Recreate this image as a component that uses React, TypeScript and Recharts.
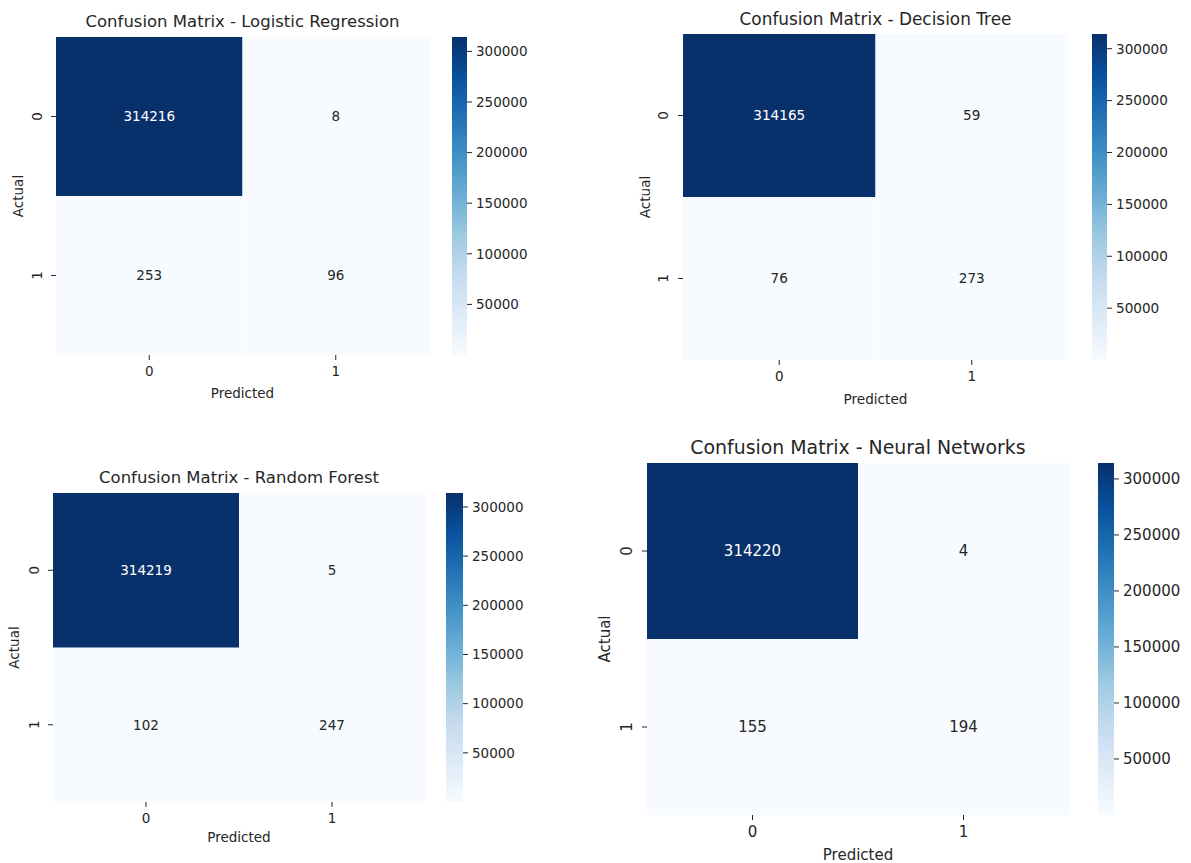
import React from "react";
import { Bar, BarChart, Cell, Label, LabelList, XAxis, YAxis } from "recharts";

type Box = { x: number; y: number; w: number; h: number };

type PanelSpec = {
  id: string;
  title: string;
  matrix: number[][];
  heat: Box;
  cbX: number;
  cbW: number;
  titleY: number;
  titleSize: number;
  predictedY: number;
  actualX: number;
  font: number;
  yTickGap: number;
};

const predictedLabels = ["0", "1"];
const actualLabels = ["0", "1"];
const colorbarTicks = [50000, 100000, 150000, 200000, 250000, 300000];

const logisticRegression = [
  [314216, 8],
  [253, 96],
];
const decisionTree = [
  [314165, 59],
  [76, 273],
];
const randomForest = [
  [314219, 5],
  [102, 247],
];
const neuralNetworks = [
  [314220, 4],
  [155, 194],
];

const FONT = "'DejaVu Sans', Verdana, sans-serif";
const TEXT = "#262626";
const BLUES = ["#f7fbff", "#deebf7", "#c6dbef", "#9ecae1", "#6baed6", "#4292c6", "#2171b5", "#08519c", "#08306b"];

const hex = (c: string) => [1, 3, 5].map((i) => parseInt(c.slice(i, i + 2), 16));

function blues(t: number) {
  const s = Math.max(0, Math.min(1, t)) * (BLUES.length - 1);
  const i = Math.min(Math.floor(s), BLUES.length - 2);
  const f = s - i;
  const a = hex(BLUES[i]);
  const b = hex(BLUES[i + 1]);
  const c = a.map((v, k) => Math.round(v + (b[k] - v) * f));
  return `rgb(${c[0]},${c[1]},${c[2]})`;
}

const RotatedTick = (props: any) => {
  const { x, y, payload, fontSize } = props;
  return (
    <text
      x={x}
      y={y}
      transform={`rotate(-90 ${x} ${y})`}
      textAnchor="middle"
      fontSize={fontSize}
      fill={TEXT}
      fontFamily={FONT}
    >
      {payload.value}
    </text>
  );
};

const makeCellLabel = (vmin: number, vmax: number, font: number) => (props: any) => {
  const { x, y, width, height, value } = props;
  const t = (value - vmin) / (vmax - vmin);
  return (
    <text
      x={Number(x) + Number(width) / 2}
      y={Number(y) + Number(height) / 2}
      dy="0.36em"
      textAnchor="middle"
      fontSize={font}
      fontFamily={FONT}
      fill={t > 0.5 ? "#ffffff" : TEXT}
    >
      {value}
    </text>
  );
};

const AX = 60; // y axis area width
const XH = 60; // x axis area height

function Panel({ spec }: { spec: PanelSpec }) {
  const { id, title, matrix, heat, cbX, cbW, titleY, titleSize, predictedY, actualX, font, yTickGap } = spec;
  const flat = matrix.flat();
  const vmin = Math.min(...flat);
  const vmax = Math.max(...flat);
  const rows = actualLabels.map((a, i) => ({
    actual: a,
    p0: 1,
    p1: 1,
    v0: matrix[i][0],
    v1: matrix[i][1],
  }));
  const cbData = [{ name: "scale", range: [vmin, vmax] }];
  const cellLabel = makeCellLabel(vmin, vmax, font);

  return (
    <>
      <div
        style={{
          position: "absolute",
          left: heat.x - 150,
          width: heat.w + 300,
          top: titleY - titleSize * 0.58,
          textAlign: "center",
          fontSize: titleSize,
          lineHeight: 1.2,
          color: TEXT,
          fontFamily: FONT,
          whiteSpace: "nowrap",
        }}
      >
        {title}
      </div>

      <div style={{ position: "absolute", left: heat.x - AX, top: heat.y }}>
        <BarChart
          layout="vertical"
          width={heat.w + AX + 1}
          height={heat.h + XH}
          data={rows}
          margin={{ top: 0, right: 1, bottom: 0, left: 0 }}
          barCategoryGap={0}
        >
          <XAxis
            type="number"
            domain={[0, 2]}
            ticks={[0.5, 1.5]}
            interval={0}
            allowDataOverflow
            tickFormatter={(v: number) => predictedLabels[Math.floor(v)]}
            axisLine={false}
            tickSize={5}
            tickMargin={6}
            height={XH}
            tickLine={{ stroke: TEXT }}
            tick={{ fill: TEXT, fontSize: font, fontFamily: FONT }}
          >
            <Label
              value="Predicted"
              position="insideBottom"
              offset={heat.y + heat.h + XH - (predictedY + font * 0.36)}
              fill={TEXT}
              fontSize={font}
              fontFamily={FONT}
            />
          </XAxis>
          <YAxis
            type="category"
            dataKey="actual"
            width={AX}
            axisLine={false}
            tickSize={5}
            tickMargin={yTickGap}
            tickLine={{ stroke: TEXT }}
            tick={<RotatedTick fontSize={font} />}
          >
            <Label
              value="Actual"
              position="insideLeft"
              angle={-90}
              offset={actualX - (heat.x - AX)}
              fill={TEXT}
              fontSize={font}
              fontFamily={FONT}
              style={{ textAnchor: "middle" }}
            />
          </YAxis>
          <Bar dataKey="p0" stackId="cm" isAnimationActive={false}>
            {rows.map((r, i) => (
              <Cell key={`c0-${i}`} fill={blues((r.v0 - vmin) / (vmax - vmin))} />
            ))}
            <LabelList dataKey="v0" content={cellLabel} />
          </Bar>
          <Bar dataKey="p1" stackId="cm" isAnimationActive={false}>
            {rows.map((r, i) => (
              <Cell key={`c1-${i}`} fill={blues((r.v1 - vmin) / (vmax - vmin))} />
            ))}
            <LabelList dataKey="v1" content={cellLabel} />
          </Bar>
        </BarChart>
      </div>

      <div style={{ position: "absolute", left: cbX, top: heat.y }}>
        <BarChart
          width={cbW + 90}
          height={heat.h}
          data={cbData}
          margin={{ top: 0, right: 0, bottom: 0, left: 0 }}
          barCategoryGap={0}
        >
          <defs>
            <linearGradient id={`grad-${id}`} x1="0" y1="1" x2="0" y2="0">
              {BLUES.map((c, i) => (
                <stop key={c} offset={i / (BLUES.length - 1)} stopColor={c} />
              ))}
            </linearGradient>
          </defs>
          <XAxis dataKey="name" hide />
          <YAxis
            orientation="right"
            type="number"
            domain={[vmin, vmax]}
            allowDataOverflow
            ticks={colorbarTicks}
            interval={0}
            width={90}
            axisLine={false}
            tickSize={5}
            tickMargin={4}
            tickLine={{ stroke: TEXT }}
            tick={{ fill: TEXT, fontSize: font, fontFamily: FONT }}
          />
          <Bar dataKey="range" fill={`url(#grad-${id})`} isAnimationActive={false} />
        </BarChart>
      </div>
    </>
  );
}

const panels: PanelSpec[] = [
  {
    id: "lr",
    title: "Confusion Matrix - Logistic Regression",
    matrix: logisticRegression,
    heat: { x: 56, y: 37, w: 373, h: 318 },
    cbX: 452,
    cbW: 15,
    titleY: 22,
    titleSize: 16.5,
    predictedY: 393,
    actualX: 18,
    font: 13.5,
    yTickGap: 9,
  },
  {
    id: "dt",
    title: "Confusion Matrix - Decision Tree",
    matrix: decisionTree,
    heat: { x: 683, y: 34, w: 385, h: 326 },
    cbX: 1092,
    cbW: 15,
    titleY: 19,
    titleSize: 16.9,
    predictedY: 399,
    actualX: 645,
    font: 13.6,
    yTickGap: 10,
  },
  {
    id: "rf",
    title: "Confusion Matrix - Random Forest",
    matrix: randomForest,
    heat: { x: 53, y: 493, w: 372, h: 309 },
    cbX: 446,
    cbW: 17,
    titleY: 478,
    titleSize: 16.5,
    predictedY: 837,
    actualX: 14,
    font: 13.5,
    yTickGap: 9,
  },
  {
    id: "nn",
    title: "Confusion Matrix - Neural Networks",
    matrix: neuralNetworks,
    heat: { x: 647, y: 463, w: 422, h: 352 },
    cbX: 1098,
    cbW: 16,
    titleY: 447,
    titleSize: 18.9,
    predictedY: 855,
    actualX: 605,
    font: 15,
    yTickGap: 10.5,
  },
];

export default function App() {
  return (
    <div
      style={{
        position: "absolute",
        left: 0,
        top: 0,
        width: 1191,
        height: 863,
        background: "#ffffff",
        overflow: "hidden",
        fontFamily: FONT,
      }}
    >
      {panels.map((p) => (
        <Panel key={p.id} spec={p} />
      ))}
    </div>
  );
}
